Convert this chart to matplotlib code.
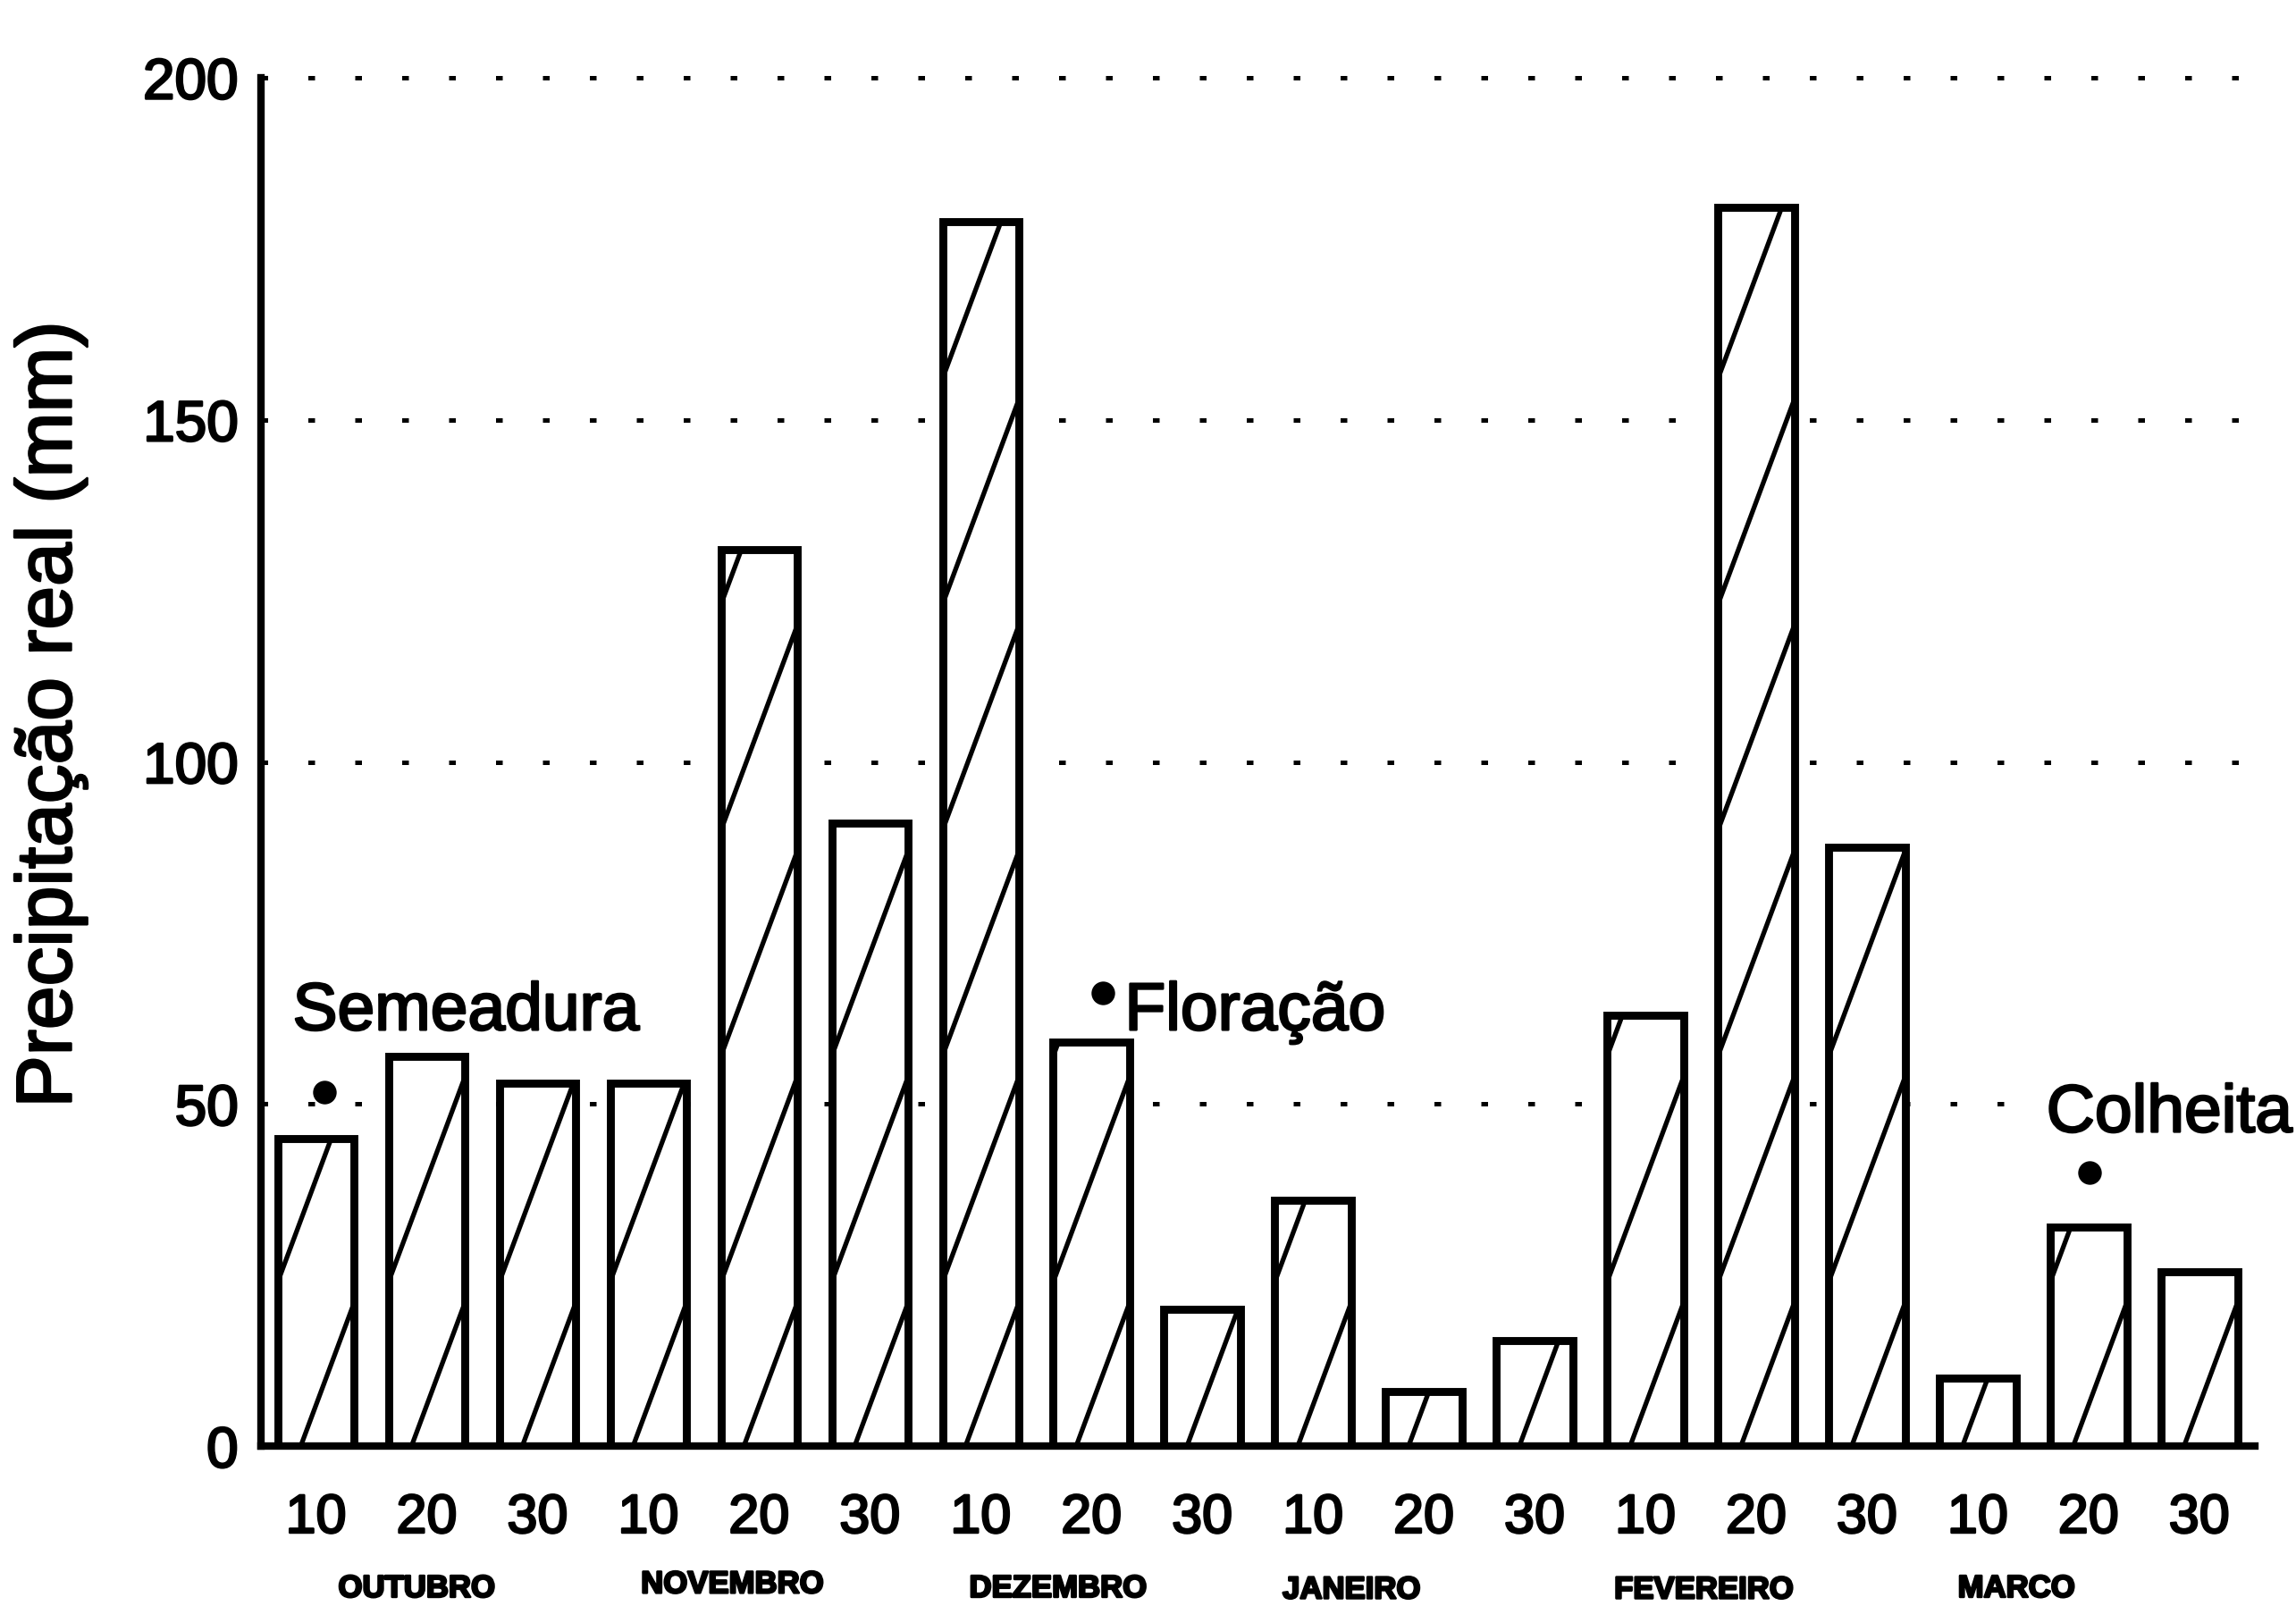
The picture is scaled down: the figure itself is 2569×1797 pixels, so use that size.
import matplotlib
matplotlib.use("Agg")
import matplotlib.pyplot as plt
import matplotlib.transforms as mtransforms
import matplotlib.patheffects as pe
import numpy as np

# ---- data ----
day_labels = ["10", "20", "30"] * 6
months = ["OUTUBRO", "NOVEMBRO", "DEZEMBRO", "JANEIRO", "FEVEREIRO", "MARCO"]
precip = [45, 57, 53, 53, 131, 91, 179, 59, 20, 36, 8, 15.5, 63, 181, 87.5, 10, 32, 25.5]
events = ["Semeadura", "Floração", "Colheita"]
event_bar = [0, 7, 16]          # index of the decade the event occurs in
event_dot_y = [51.7, 66.2, 40.0]
yticks = [0, 50, 100, 150, 200]

# ---- layout / style ----
W, H, DPI = 2569, 1797, 200
fig = plt.figure(figsize=(W / DPI, H / DPI), dpi=DPI)
ax = fig.add_axes([0.1135, 0.0995, 0.982 - 0.1135, 0.9516 - 0.0995])

plt.rcParams['font.family'] = ['Liberation Sans', 'DejaVu Sans']
font = ['Liberation Sans', 'DejaVu Sans']
heavy = [pe.withStroke(linewidth=0.9, foreground='black')]

x = np.arange(len(precip))
bw = 0.69

ax.set_axisbelow(True)
for yv in yticks[1:]:
    ax.axhline(yv, color='black', lw=1.8, ls=(0, (1.5, 9)), zorder=0, clip_on=False)

# white-filled bars
bars = ax.bar(x, precip, width=bw, color='white', edgecolor='none', zorder=2)

# sparse steep diagonal hatching, clipped to each bar
slope = 30.0 / bw      # data units of rise per x unit
step = 33.0            # vertical spacing between hatch lines
for rect, h in zip(bars, precip):
    xl = rect.get_x()
    xs = np.array([xl - 0.05, xl + bw + 0.05])
    x0 = xl + 0.3 * bw
    for k in range(-2, int(h / step) + 3):
        ys = slope * (xs - x0) + k * step
        ln, = ax.plot(xs, ys, color='black', lw=1.9, zorder=3, solid_capstyle='butt')
        ln.set_clip_path(rect)

# outlines on top
ax.bar(x, precip, width=bw, facecolor='none', edgecolor='black', linewidth=3.2, zorder=4)

ax.set_xlim(-0.5, len(precip) - 0.5)
ax.set_ylim(0, 200)

for s in ['top', 'right']:
    ax.spines[s].set_visible(False)
for s in ['left', 'bottom']:
    ax.spines[s].set_linewidth(3.0)
    ax.spines[s].set_zorder(5)

ax.set_yticks(yticks)
ax.set_yticklabels([str(v) for v in yticks], fontsize=23, family=font)
ax.tick_params(axis='y', direction='in', length=3, width=1.5, pad=9)
ax.set_xticks(x)
ax.set_xticklabels(day_labels, fontsize=22, family=font)
ax.tick_params(axis='x', length=0, pad=19)
for t in ax.get_xticklabels() + ax.get_yticklabels():
    t.set_path_effects(heavy)

ax.set_ylabel("Precipitação real (mm)", fontsize=31.5, family=font, path_effects=heavy)
ax.yaxis.set_label_coords(-0.087, 0.535)

# month names under the decade labels
month_x = [0.91, 3.76, 6.70, 9.35, 12.53, 15.35]
month_y = [-0.104, -0.101, -0.104, -0.105, -0.105, -0.104]
trans = mtransforms.blended_transform_factory(ax.transData, ax.transAxes)
for m, mx, my in zip(months, month_x, month_y):
    ax.text(mx, my, m, transform=trans, ha='center', va='center', fontsize=12.5,
            fontweight='bold', family=['Liberation Sans Narrow', 'Liberation Sans'],
            clip_on=False, path_effects=heavy)

# phenology events: dots
dot_dx = [0.08, 0.10, 0.01]
for b, dy, dx in zip(event_bar, event_dot_y, dot_dx):
    ax.plot(b + dx, dy, 'o', color='black', ms=8.5, zorder=6)

# phenology events: labels
ax.text(event_bar[0] - 0.21, 63.4, events[0], fontsize=27, family=font,
        ha='left', va='center', path_effects=heavy)
ax.text(event_bar[1] + 0.30, 63.4, events[1], fontsize=27, family=font,
        ha='left', va='center', path_effects=heavy)
ax.text(event_bar[2] - 0.38, 48.5, events[2], fontsize=27, family=font,
        ha='left', va='center', path_effects=heavy,
        bbox=dict(facecolor='white', edgecolor='none', pad=1), zorder=6)

fig.savefig("out.png", dpi=DPI, facecolor='white')
